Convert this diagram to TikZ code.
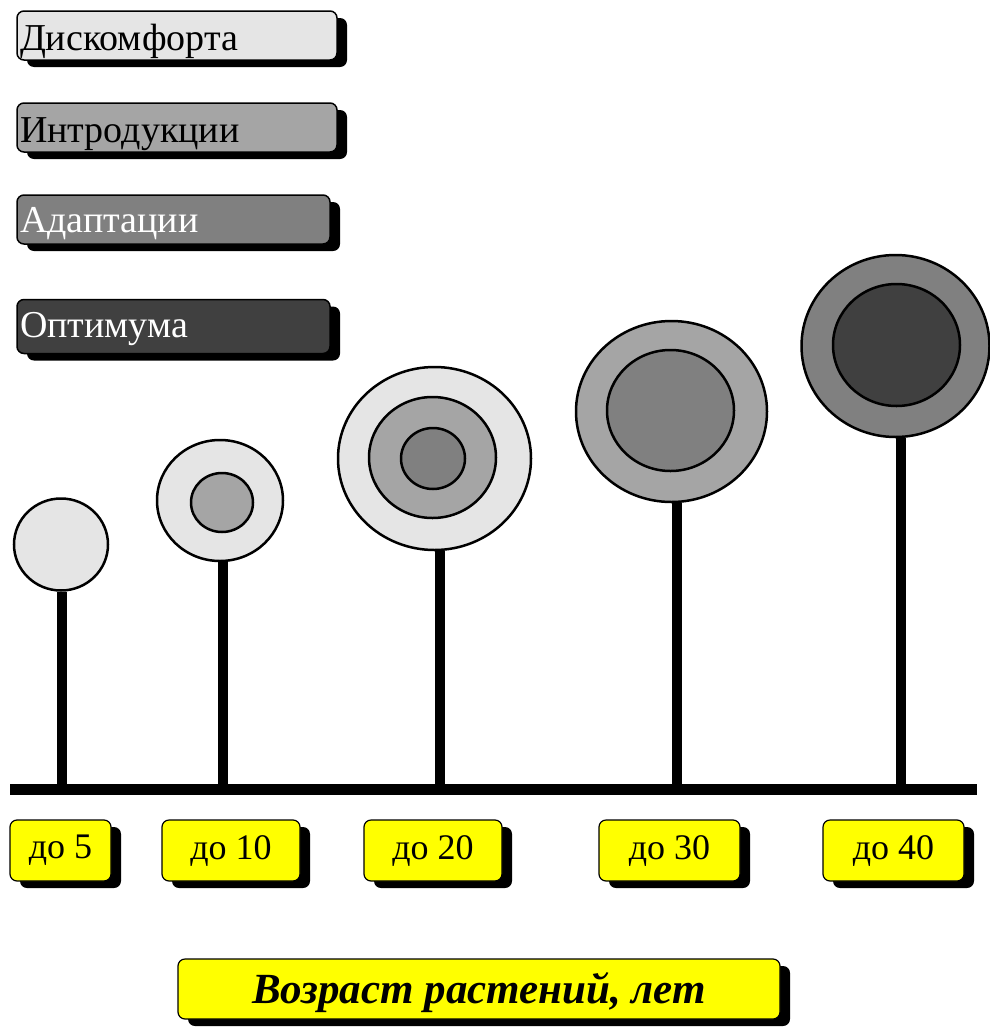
\documentclass[tikz,border=0pt]{standalone}
\usepackage{fontspec}
\setmainfont{Liberation Serif}
\usetikzlibrary{shapes.geometric,shadows}
% shades for the four phases and the tag colour
\definecolor{phA}{RGB}{229,229,229}
\definecolor{phB}{RGB}{165,165,165}
\definecolor{phC}{RGB}{128,128,128}
\definecolor{phD}{RGB}{64,64,64}
\definecolor{tag}{RGB}{255,255,0}
\begin{document}
\begin{tikzpicture}[x=1pt,y=-1pt,
  boxshadow/.style={drop shadow={shadow xshift=10pt,shadow yshift=-7pt,fill=black,opacity=1}},
  legend/.style={draw=black, line width=1.5pt, rounded corners=7pt, boxshadow,
    minimum height=49pt, inner xsep=3pt, inner ysep=0pt, align=left,
    text height=36pt, text depth=7pt,
    font=\fontsize{38}{42}\selectfont},
  agebox/.style={draw=black, line width=1.2pt, rounded corners=7pt, fill=tag, boxshadow,
    minimum height=61pt, inner sep=0pt, font=\fontsize{36}{40}\selectfont},
  ring/.style={ellipse, draw=black, line width=2.5pt, inner sep=0pt},
  stem/.style={line width=10pt},
  axis/.style={line width=11pt}]

\useasboundingbox (0,0) rectangle (990,1028);

% legend of the phases
\node[legend, fill=phA, text width=314pt] (lgA) at (177,35.5) {Дискомфорта};
\node[legend, fill=phB, text width=314pt] (lgB) at (177,127.5) {Интродукции};
\node[legend, fill=phC, text=white, text width=307pt,
  text height=34pt, text depth=9pt] (lgC) at (173.5,219.5) {Адаптации};
\node[legend, fill=phD, text=white, text width=307pt, minimum height=54pt,
  text height=32pt, text depth=11pt] (lgD) at (173.5,326.5) {Оптимума};

% ground line
\coordinate (axL) at (10,789.5);
\coordinate (axR) at (977,789.5);
\draw[axis] (axL) -- (axR);

% crowns
\node[ring, fill=phA, minimum width=94pt, minimum height=92pt] (c1) at (61,544.5) {};

\node[ring, fill=phA, minimum width=126pt, minimum height=121pt] (c2o) at (220,500.5) {};
\node[ring, fill=phB, minimum width=62pt, minimum height=59pt] (c2i) at (222,502.5) {};

\node[ring, fill=phA, minimum width=193pt, minimum height=183pt] (c3o) at (434.5,458.5) {};
\node[ring, fill=phB, minimum width=127pt, minimum height=121pt] (c3m) at (432.5,457.5) {};
\node[ring, fill=phC, minimum width=64pt, minimum height=61pt] (c3i) at (433,458.5) {};

\node[ring, fill=phB, minimum width=191pt, minimum height=181pt] (c4o) at (671.5,411.5) {};
\node[ring, fill=phC, minimum width=127pt, minimum height=121pt] (c4i) at (670.5,410.5) {};

\node[ring, fill=phC, minimum width=188pt, minimum height=182pt] (c5o) at (895.5,346) {};
\node[ring, fill=phD, minimum width=127pt, minimum height=122pt] (c5i) at (896.5,345) {};

% trunks from the ground line up to each crown
\coordinate (b1) at (61.5,789.5);
\coordinate (b2) at (222.5,789.5);
\coordinate (b3) at (439.5,789.5);
\coordinate (b4) at (676.5,789.5);
\coordinate (b5) at (901,784);
\draw[stem] (b1) -- (b1 |- c1.south);
\draw[stem] (b2) -- (b2 |- c2o.south);
\draw[stem] (b3) -- (b3 |- c3o.south);
\draw[stem] (b4) -- (b4 |- c4o.south);
\draw[stem] (b5) -- (b5 |- c5o.south);

% age labels
\node[agebox, minimum width=101pt] (a1) at (60.5,850.5) {до 5};
\node[agebox, minimum width=138pt] (a2) at (231,850.5) {до 10};
\node[agebox, minimum width=138pt] (a3) at (433,850.5) {до 20};
\node[agebox, minimum width=141pt] (a4) at (669.5,850.5) {до 30};
\node[agebox, minimum width=141pt] (a5) at (893.5,850.5) {до 40};

% axis caption
\node[agebox, minimum width=602pt, minimum height=60pt, text height=30pt, text depth=2pt,
  font=\fontsize{43}{47}\selectfont\bfseries\itshape] (cap) at (479,989) {Возраст растений, лет};

\end{tikzpicture}
\end{document}
